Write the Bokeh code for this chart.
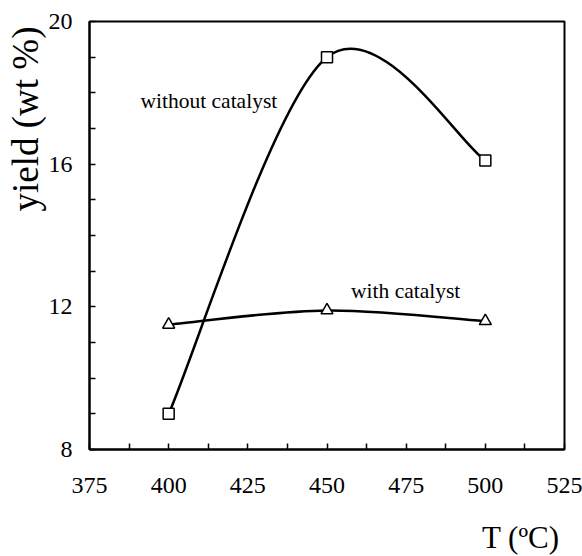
import numpy as np
from bokeh.plotting import figure
from bokeh.layouts import column
from bokeh.models import Range1d, FixedTicker, Label, Title, Div
from bokeh.embed import file_html
from bokeh.resources import INLINE

# ---- data ----
T = [400, 450, 500]
yield_without = [9.0, 19.0, 16.1]
yield_with = [11.5, 11.9, 11.6]
x_ticks = [375, 400, 425, 450, 475, 500, 525]
y_ticks = [8, 12, 16, 20]

FONT = "Liberation Serif"


def bezier_segments(xs, ys, k=1.0 / 6.0):
    xs = np.asarray(xs, float)
    ys = np.asarray(ys, float)
    n = len(xs)
    tx = np.empty(n)
    ty = np.empty(n)
    for i in range(n):
        a = max(i - 1, 0)
        b = min(i + 1, n - 1)
        tx[i] = xs[b] - xs[a]
        ty[i] = ys[b] - ys[a]
    return dict(
        x0=xs[:-1], y0=ys[:-1], x1=xs[1:], y1=ys[1:],
        cx0=xs[:-1] + k * tx[:-1], cy0=ys[:-1] + k * ty[:-1],
        cx1=xs[1:] - k * tx[1:], cy1=ys[1:] - k * ty[1:],
    )


p = figure(width=582, height=520, output_backend="svg", toolbar_location=None,
           x_range=Range1d(375, 525), y_range=Range1d(8, 20),
           min_border_left=89, min_border_right=18, min_border_top=21,
           min_border_bottom=71, margin=0)
p.background_fill_color = "white"
p.border_fill_color = "white"
p.grid.visible = False
p.outline_line_color = "black"
p.outline_line_width = 2

x_minor = [(a + b) / 2 for a, b in zip(x_ticks[:-1], x_ticks[1:])]
y_minor = [v for v in np.arange(y_ticks[0], y_ticks[-1] + 1, 1.0) if v not in y_ticks]
p.xaxis.ticker = FixedTicker(ticks=x_ticks, minor_ticks=x_minor)
p.yaxis.ticker = FixedTicker(ticks=y_ticks, minor_ticks=y_minor)

for ax in (p.xaxis[0], p.yaxis[0]):
    ax.axis_line_color = "black"
    ax.axis_line_width = 2
    ax.major_tick_in = 6
    ax.major_tick_out = 0
    ax.minor_tick_in = 6
    ax.minor_tick_out = 0
    ax.major_tick_line_width = 1.5
    ax.minor_tick_line_width = 1.5
    ax.major_label_text_font = FONT
    ax.major_label_text_font_size = "24px"
    ax.major_label_text_color = "black"
p.xaxis.major_label_standoff = 28
p.yaxis.major_label_standoff = 17

# curves
seg1 = bezier_segments(T, yield_without)
p.bezier(x0=seg1["x0"], y0=seg1["y0"], x1=seg1["x1"], y1=seg1["y1"],
         cx0=seg1["cx0"], cy0=seg1["cy0"], cx1=seg1["cx1"], cy1=seg1["cy1"],
         line_color="black", line_width=2.5)
seg2 = bezier_segments(T, yield_with)
p.bezier(x0=seg2["x0"], y0=seg2["y0"], x1=seg2["x1"], y1=seg2["y1"],
         cx0=seg2["cx0"], cy0=seg2["cy0"], cx1=seg2["cx1"], cy1=seg2["cy1"],
         line_color="black", line_width=2.5)

p.scatter(T, yield_without, marker="square", size=11, fill_color="white",
          line_color="black", line_width=1.5)
p.scatter(T, yield_with, marker="triangle", size=12, fill_color="white",
          line_color="black", line_width=1.5)

# annotations
p.add_layout(Label(x=391.1, y=17.77, text="without catalyst", text_font=FONT,
                   text_font_size="21.5px", text_color="black",
                   text_align="left", text_baseline="alphabetic"))
p.add_layout(Label(x=457.6, y=12.44, text="with catalyst", text_font=FONT,
                   text_font_size="21.5px", text_color="black",
                   text_align="left", text_baseline="alphabetic"))
# y axis title
p.add_layout(Title(text="yield (wt %)", align="right", offset=5, standoff=0,
                   text_font=FONT, text_font_size="37px",
                   text_font_style="normal", text_color="black"), "left")

# x axis title (below the figure, right aligned)
xlabel = Div(text="T (ºC)", width=582, height=36, margin=0,
             styles={"font-family": FONT, "font-size": "31px",
                     "line-height": "36px", "color": "black",
                     "text-align": "right", "padding-right": "23px",
                     "box-sizing": "border-box", "width": "582px",
                     "background": "white"})

layout = column(p, xlabel, spacing=0, margin=0)

open("out.html", "w").write(file_html(layout, INLINE))
